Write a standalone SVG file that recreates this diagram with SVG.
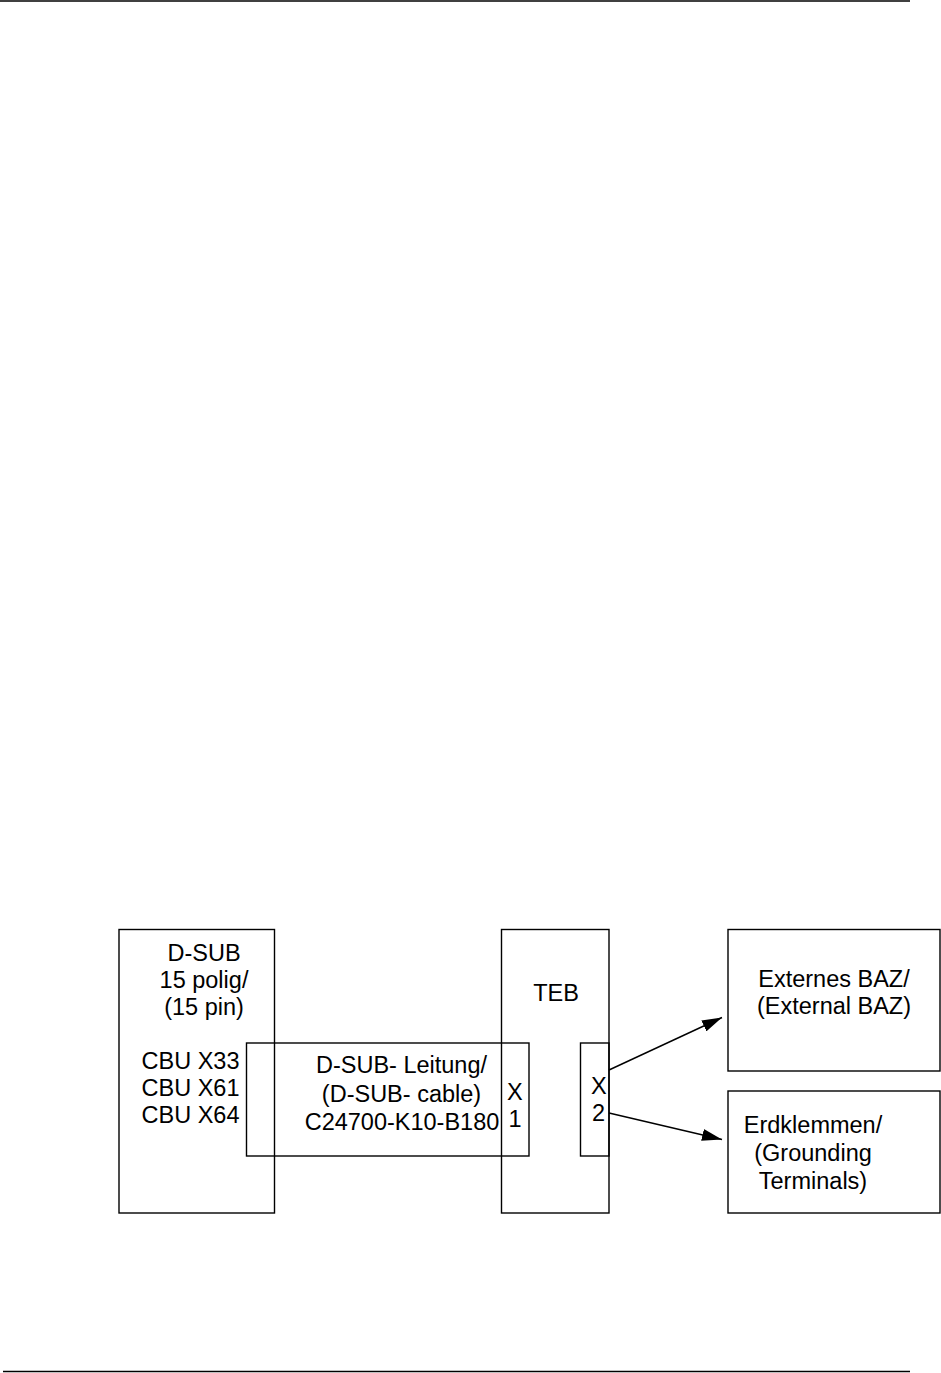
<svg xmlns="http://www.w3.org/2000/svg" width="941" height="1373" viewBox="0 0 941 1373">
<style>
.box{fill:none;stroke:#000;stroke-width:1.4}
.t{font-family:"Liberation Sans",Arial,sans-serif;font-size:23.5px;fill:#000}
.m{text-anchor:middle}
.ln{stroke:#000;stroke-width:1.4;fill:none}
</style>
<defs>
<marker id="ah" viewBox="0 0 20 12" refX="20" refY="6" markerWidth="20" markerHeight="12" markerUnits="userSpaceOnUse" orient="auto">
<path d="M0,0 L20,6 L0,12 Z" fill="#000"/>
</marker>
</defs>
<rect width="941" height="1373" fill="#fff"/>
<line x1="0" y1="1" x2="910" y2="1" stroke="#000" stroke-width="1.5"/>
<line x1="3" y1="1371.5" x2="910" y2="1371.5" stroke="#000" stroke-width="1.5"/>

<g id="dsub">
<rect class="box" x="119" y="929.5" width="155.5" height="283.5"/>
<text class="t m" x="204" y="961">D-SUB</text>
<text class="t m" x="204" y="988">15 polig/</text>
<text class="t m" x="204" y="1015">(15 pin)</text>
<text class="t" x="141.5" y="1069">CBU X33</text>
<text class="t" x="141.5" y="1096">CBU X61</text>
<text class="t" x="141.5" y="1123">CBU X64</text>
</g>

<g id="teb">
<rect class="box" x="501.5" y="929.5" width="107.5" height="283.5"/>
<text class="t m" x="556" y="1001">TEB</text>
<rect class="box" x="580.5" y="1043" width="28.5" height="113"/>
<text class="t" x="591" y="1094">X</text>
<text class="t" x="592" y="1121">2</text>
</g>

<g id="cable">
<rect class="box" x="246.5" y="1043" width="282.5" height="113"/>
<text class="t m" x="401.5" y="1073">D-SUB- Leitung/</text>
<text class="t m" x="401.5" y="1102">(D-SUB- cable)</text>
<text class="t m" x="402" y="1130">C24700-K10-B180</text>
<text class="t" x="507" y="1100">X</text>
<text class="t" x="508.5" y="1127">1</text>
</g>

<g id="baz">
<rect class="box" x="728" y="929.5" width="212" height="141.5"/>
<text class="t m" x="834" y="987">Externes BAZ/</text>
<text class="t m" x="834" y="1014">(External BAZ)</text>
</g>

<g id="erd">
<rect class="box" x="728" y="1091" width="212" height="122"/>
<text class="t m" x="813" y="1133">Erdklemmen/</text>
<text class="t m" x="813" y="1161">(Grounding</text>
<text class="t m" x="813" y="1189">Terminals)</text>
</g>

<g id="connectors">
<line class="ln" x1="609" y1="1070" x2="722" y2="1017.5" marker-end="url(#ah)"/>
<line class="ln" x1="609" y1="1113" x2="722" y2="1139.5" marker-end="url(#ah)"/>
</g>
</svg>
